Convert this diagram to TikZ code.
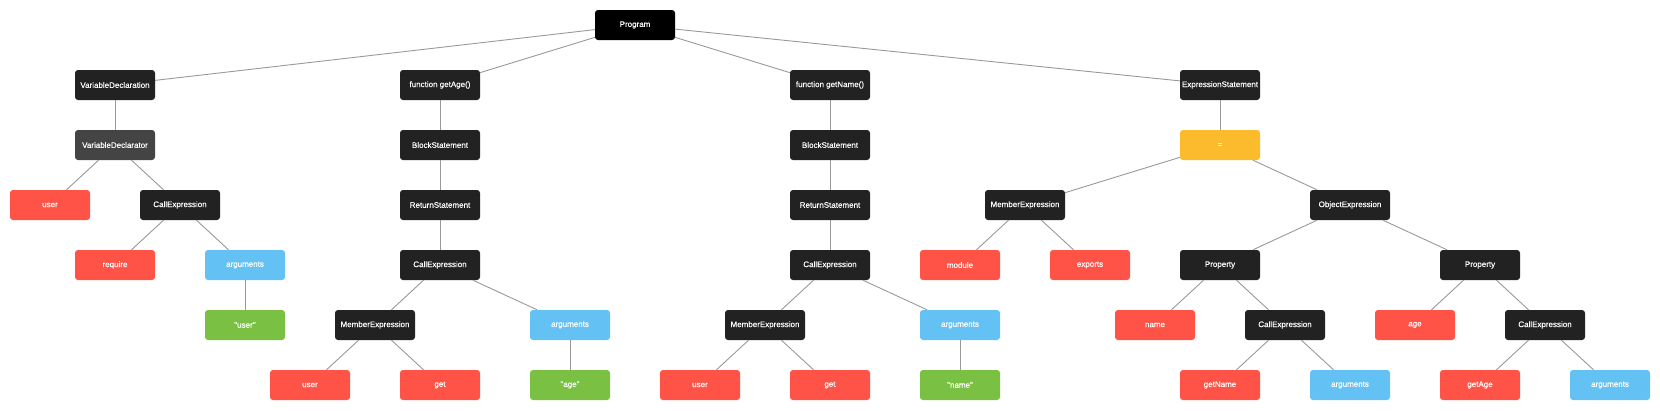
\documentclass[tikz,border=0pt]{standalone}
\usepackage{fontspec}
\newfontfamily\nodefont[FakeBold=0.4]{Liberation Sans}
\definecolor{cprog}{HTML}{000000}
\definecolor{cdark}{HTML}{222222}
\definecolor{cmid}{HTML}{444444}
\definecolor{cred}{HTML}{FF5347}
\definecolor{cblue}{HTML}{63C1F3}
\definecolor{cgreen}{HTML}{7AC143}
\definecolor{cyellow}{HTML}{FCBB2D}
\definecolor{cedge}{HTML}{999999}
\begin{document}
\begin{tikzpicture}[x=1pt,y=-1pt,
  nd/.style={rectangle, rounded corners=3pt, minimum width=80pt, minimum height=30pt,
    inner sep=0pt, text=white, font=\nodefont\fontsize{8}{9}\selectfont},
  ndprog/.style={nd, fill=cprog},
  nddark/.style={nd, fill=cdark},
  ndmid/.style={nd, fill=cmid},
  ndred/.style={nd, fill=cred},
  ndblue/.style={nd, fill=cblue},
  ndgreen/.style={nd, fill=cgreen},
  ndyellow/.style={nd, fill=cyellow},
  link/.style={draw=cedge, line width=0.9pt}]
\useasboundingbox (0,0) rectangle (1660,410);
% level 0
\node[ndprog] (prog) at (635,25) {Program};
% level 1
\node[nddark] (vdecl) at (115,85) {VariableDeclaration};
\node[nddark] (getage) at (440,85) {function getAge()};
\node[nddark] (getname) at (830,85) {function getName()};
\node[nddark] (exprst) at (1220,85) {ExpressionStatement};
% level 2
\node[ndmid] (vdtor) at (115,145) {VariableDeclarator};
\node[nddark] (blk1) at (440,145) {BlockStatement};
\node[nddark] (blk2) at (830,145) {BlockStatement};
\node[ndyellow] (assign) at (1220,145) {=};
% level 3
\node[ndred] (user1) at (50,205) {user};
\node[nddark] (call1) at (180,205) {CallExpression};
\node[nddark] (ret1) at (440,205) {ReturnStatement};
\node[nddark] (ret2) at (830,205) {ReturnStatement};
\node[nddark] (mem1) at (1025,205) {MemberExpression};
\node[nddark] (objx) at (1350,205) {ObjectExpression};
% level 4
\node[ndred] (req) at (115,265) {require};
\node[ndblue] (args1) at (245,265) {arguments};
\node[nddark] (call2) at (440,265) {CallExpression};
\node[nddark] (call3) at (830,265) {CallExpression};
\node[ndred] (module) at (960,265) {module};
\node[ndred] (exports) at (1090,265) {exports};
\node[nddark] (prop1) at (1220,265) {Property};
\node[nddark] (prop2) at (1480,265) {Property};
% level 5
\node[ndgreen] (struser) at (245,325) {"user"};
\node[nddark] (mem2) at (375,325) {MemberExpression};
\node[ndblue] (args2) at (570,325) {arguments};
\node[nddark] (mem3) at (765,325) {MemberExpression};
\node[ndblue] (args3) at (960,325) {arguments};
\node[ndred] (name1) at (1155,325) {name};
\node[nddark] (call4) at (1285,325) {CallExpression};
\node[ndred] (age1) at (1415,325) {age};
\node[nddark] (call5) at (1545,325) {CallExpression};
% level 6
\node[ndred] (user2) at (310,385) {user};
\node[ndred] (get1) at (440,385) {get};
\node[ndgreen] (strage) at (570,385) {"age"};
\node[ndred] (user3) at (700,385) {user};
\node[ndred] (get2) at (830,385) {get};
\node[ndgreen] (strname) at (960,385) {"name"};
\node[ndred] (getname1) at (1220,385) {getName};
\node[ndblue] (args4) at (1350,385) {arguments};
\node[ndred] (getage1) at (1480,385) {getAge};
\node[ndblue] (args5) at (1610,385) {arguments};
% connectors
\foreach \a/\b in {prog/vdecl, prog/getage, prog/getname, prog/exprst,
  vdecl/vdtor, vdtor/user1, vdtor/call1, call1/req, call1/args1, args1/struser,
  getage/blk1, blk1/ret1, ret1/call2, call2/mem2, call2/args2, mem2/user2, mem2/get1, args2/strage,
  getname/blk2, blk2/ret2, ret2/call3, call3/mem3, call3/args3, mem3/user3, mem3/get2, args3/strname,
  exprst/assign, assign/mem1, assign/objx, mem1/module, mem1/exports, objx/prop1, objx/prop2,
  prop1/name1, prop1/call4, call4/getname1, call4/args4, prop2/age1, prop2/call5, call5/getage1, call5/args5}
  \draw[link] (\a) -- (\b);
\end{tikzpicture}
\end{document}
